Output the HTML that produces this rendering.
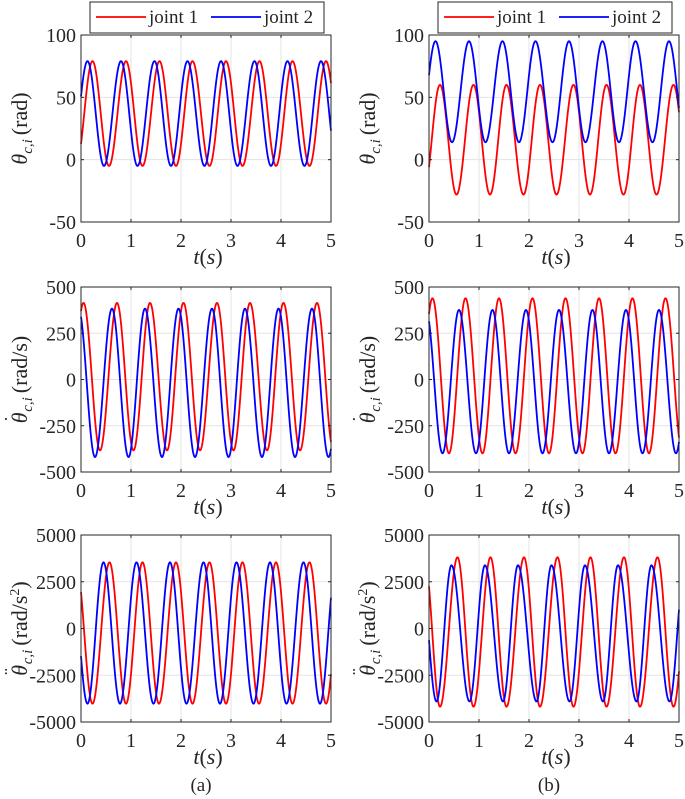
<!DOCTYPE html>
<html><head><meta charset="utf-8"><style>
body{margin:0;background:#fff;}
svg{display:block;}
svg text{font-family:"Liberation Serif",serif;}
</style></head><body>
<svg id="fig" width="685" height="799" viewBox="0 0 685 799" xmlns="http://www.w3.org/2000/svg"></svg>
<script>
// ---- data: extrema of each series (time, value) ----
const L1_blue_peaks=[0.13,0.80,1.47,2.13,2.80,3.47,4.13,4.80];
const L1_blue_troughs=[-0.20,0.46,1.13,1.80,2.47,3.13,3.80,4.47,5.13];
const L1_blue_vals=[79,-5];
const L1_red_peaks=[0.23,0.90,1.57,2.23,2.90,3.57,4.23,4.90];
const L1_red_troughs=[-0.10,0.56,1.23,1.90,2.57,3.23,3.90,4.57,5.23];
const L1_red_vals=[79,-5];
const R1_blue_peaks=[0.13,0.80,1.47,2.13,2.80,3.47,4.13,4.80];
const R1_blue_troughs=[-0.20,0.46,1.13,1.80,2.47,3.13,3.80,4.47,5.13];
const R1_blue_vals=[95,14];
const R1_red_peaks=[0.22,0.89,1.55,2.22,2.89,3.55,4.22,4.89];
const R1_red_troughs=[-0.11,0.55,1.22,1.89,2.55,3.22,3.89,4.55,5.22];
const R1_red_vals=[60,-28];
const L2_red_peaks=[0.05,0.72,1.38,2.05,2.72,3.38,4.05,4.72,5.38];
const L2_red_troughs=[-0.28,0.38,1.05,1.72,2.38,3.05,3.72,4.38,5.05];
const L2_red_vals=[414,-383];
const L2_blue_peaks=[-0.05,0.62,1.28,1.95,2.62,3.28,3.95,4.62,5.28];
const L2_blue_troughs=[0.28,0.95,1.62,2.28,2.95,3.62,4.28,4.95];
const L2_blue_vals=[383,-419];
const R2_red_peaks=[0.07,0.73,1.40,2.07,2.73,3.40,4.07,4.73];
const R2_red_troughs=[-0.27,0.40,1.07,1.73,2.40,3.07,3.73,4.40,5.07];
const R2_red_vals=[439,-399];
const R2_blue_peaks=[-0.06,0.60,1.27,1.94,2.60,3.27,3.94,4.60,5.27];
const R2_blue_troughs=[0.27,0.94,1.60,2.27,2.94,3.60,4.27,4.94];
const R2_blue_vals=[376,-399];
const L3_blue_peaks=[-0.20,0.45,1.11,1.78,2.45,3.11,3.78,4.45,5.11];
const L3_blue_troughs=[0.13,0.78,1.45,2.11,2.78,3.45,4.11,4.78];
const L3_blue_vals=[3536,-4018];
const L3_red_peaks=[-0.10,0.57,1.23,1.90,2.57,3.23,3.90,4.57,5.23];
const L3_red_troughs=[0.23,0.90,1.56,2.23,2.90,3.56,4.23,4.90];
const L3_red_vals=[3536,-4018];
const R3_red_peaks=[-0.09,0.57,1.23,1.90,2.57,3.23,3.90,4.57,5.23];
const R3_red_troughs=[0.22,0.89,1.55,2.22,2.89,3.55,4.22,4.89];
const R3_red_vals=[3806,-4180];
const R3_blue_peaks=[-0.17,0.45,1.12,1.78,2.45,3.12,3.78,4.45,5.12];
const R3_blue_troughs=[0.15,0.81,1.48,2.15,2.81,3.48,4.15,4.81];
const R3_blue_vals=[3378,-3900];
const xTicks=[0,1,2,3,4,5];
const yTicks1=[-50,0,50,100];
const yTicks2=[-500,-250,0,250,500];
const yTicks3=[-5000,-2500,0,2500,5000];
const legendLabels=["joint 1","joint 2"];

const NS="http://www.w3.org/2000/svg";
const svg=document.getElementById('fig');
function mk(tag,attrs,parent){const e=document.createElementNS(NS,tag);for(const k in attrs)e.setAttribute(k,attrs[k]);(parent||svg).appendChild(e);return e;}
const FF='"Liberation Serif", serif';

const cols=[{L:81,R:331,tag:'a'},{L:429,R:679,tag:'b'}];
const rows=[{T:35,B:222,ticks:yTicks1},{T:287,B:472,ticks:yTicks2},{T:535,B:722,ticks:yTicks3}];
const series=[
 [[L1_red_peaks,L1_red_troughs,L1_red_vals],[L1_blue_peaks,L1_blue_troughs,L1_blue_vals]],
 [[R1_red_peaks,R1_red_troughs,R1_red_vals],[R1_blue_peaks,R1_blue_troughs,R1_blue_vals]],
 [[L2_red_peaks,L2_red_troughs,L2_red_vals],[L2_blue_peaks,L2_blue_troughs,L2_blue_vals]],
 [[R2_red_peaks,R2_red_troughs,R2_red_vals],[R2_blue_peaks,R2_blue_troughs,R2_blue_vals]],
 [[L3_red_peaks,L3_red_troughs,L3_red_vals],[L3_blue_peaks,L3_blue_troughs,L3_blue_vals]],
 [[R3_red_peaks,R3_red_troughs,R3_red_vals],[R3_blue_peaks,R3_blue_troughs,R3_blue_vals]]
];
const ylabels=[['','(rad)',''],['˙','(rad/s)',''],['¨','(rad/s','2']];
const colors=['#ff0000','#0000ff'];

function buildPath(peaks,troughs,vals,xs,ys){
  const ext=[];
  peaks.forEach(t=>ext.push([t,vals[0]]));
  troughs.forEach(t=>ext.push([t,vals[1]]));
  ext.sort((a,b)=>a[0]-b[0]);
  let d='';
  for(let t=0;t<=5.0001;t+=0.005){
    let i=0;while(i<ext.length-2&&ext[i+1][0]<t)i++;
    const a=ext[i],b=ext[i+1];
    const f=Math.min(1,Math.max(0,(t-a[0])/(b[0]-a[0])));
    const v=a[1]+(b[1]-a[1])*(1-Math.cos(Math.PI*f))/2;
    d+=(d?'L':'M')+xs(t).toFixed(2)+','+ys(v).toFixed(2);
  }
  return d;
}

rows.forEach((r,ri)=>{
 cols.forEach((c,ci)=>{
  const g=mk('g',{});
  
  
  const lo=r.ticks[0],hi=r.ticks[r.ticks.length-1];
  const xs=t=>c.L+(t-0)/5*(c.R-c.L);
  const ys=v=>r.B-(v-lo)/(hi-lo)*(r.B-r.T);
  xTicks.forEach(t=>{if(t>0&&t<5){const l=mk('line',{x1:xs(t),x2:xs(t),y1:r.T,y2:r.B,stroke:'#e3e3e3','stroke-width':1},g);
    
    }});
  r.ticks.forEach(v=>{if(v>lo&&v<hi){const l=mk('line',{x1:c.L,x2:c.R,y1:ys(v),y2:ys(v),stroke:'#e3e3e3','stroke-width':1},g);
    
    }});
  series[ri*2+ci].forEach((s,si)=>{
    const p=mk('path',{d:buildPath(s[0],s[1],s[2],xs,ys),fill:'none',stroke:colors[si],'stroke-width':1.8},g);
    
    
  });
  const fr=mk('rect',{x:c.L,y:r.T,width:c.R-c.L,height:r.B-r.T,fill:'none',stroke:'#262626','stroke-width':1},g);
  
  
  xTicks.forEach(t=>{
    mk('line',{x1:xs(t),x2:xs(t),y1:r.B,y2:r.B-3,stroke:'#262626'},g);
    mk('line',{x1:xs(t),x2:xs(t),y1:r.T,y2:r.T+3,stroke:'#262626'},g);
    const tx=mk('text',{x:xs(t),y:r.B+25,'font-size':20,'text-anchor':'middle',fill:'#262626','font-family':FF},g);
    tx.textContent=t;
    
    
  });
  r.ticks.forEach(v=>{
    mk('line',{x1:c.L,x2:c.L+3,y1:ys(v),y2:ys(v),stroke:'#262626'},g);
    mk('line',{x1:c.R,x2:c.R-3,y1:ys(v),y2:ys(v),stroke:'#262626'},g);
    const tx=mk('text',{x:c.L-5,y:ys(v)+7,'font-size':20,'text-anchor':'end',fill:'#262626','font-family':FF},g);
    tx.textContent=v;
    
    
  });
  const xt=mk('text',{x:(c.L+c.R)/2+2,y:r.B+42,'font-size':22,'text-anchor':'middle',fill:'#262626','font-style':'italic','font-family':FF},g);
  xt.innerHTML='t<tspan font-style="normal">(</tspan>s<tspan font-style="normal">)</tspan>';
  
  
  const yl=ylabels[ri];
  const cy=(r.T+r.B)/2, cx=c.L-54;
  const yt=mk('text',{x:cx,y:cy,'font-size':22,'text-anchor':'middle',fill:'#262626','font-family':FF,transform:'rotate(-90 '+cx+' '+cy+')'},g);
  let html='<tspan font-style="italic">θ</tspan>';
  let subdx=0;
  if(yl[0]){ html+='<tspan dx="-10" dy="-9" font-size="20">'+yl[0]+'</tspan>'; subdx=4; }
  html+='<tspan font-style="italic" font-size="15" dx="'+subdx+'" dy="'+(yl[0]?14:5)+'">c,i</tspan><tspan dy="-5" dx="4">'+yl[1]+'</tspan>';
  if(yl[2]) html+='<tspan font-size="14" dy="-8">2</tspan><tspan dy="8">)</tspan>';
  yt.innerHTML=html;
  
  
 });
});

cols.forEach((c,ci)=>{
  const lx=c.L+9, g=mk('g',{});
  
  
  mk('rect',{x:lx,y:2,width:234,height:31,fill:'#fff',stroke:'#262626','stroke-width':1},g);
  legendLabels.forEach((lab,i)=>{
    const ox=lx+6+i*115;
    const ln=mk('line',{x1:ox,x2:ox+50,y1:17,y2:17,stroke:colors[i],'stroke-width':1.8},g);
    
    
    const t=mk('text',{x:ox+53,y:23,'font-size':19,fill:'#262626','font-family':FF},g);
    t.textContent=lab;
    
    
  });
  const cap=mk('text',{x:(c.L+c.R)/2-5,y:791,'font-size':19,'text-anchor':'middle',fill:'#262626','font-family':FF});
  cap.textContent='('+c.tag+')';
  
  
});
</script>
</body></html>
